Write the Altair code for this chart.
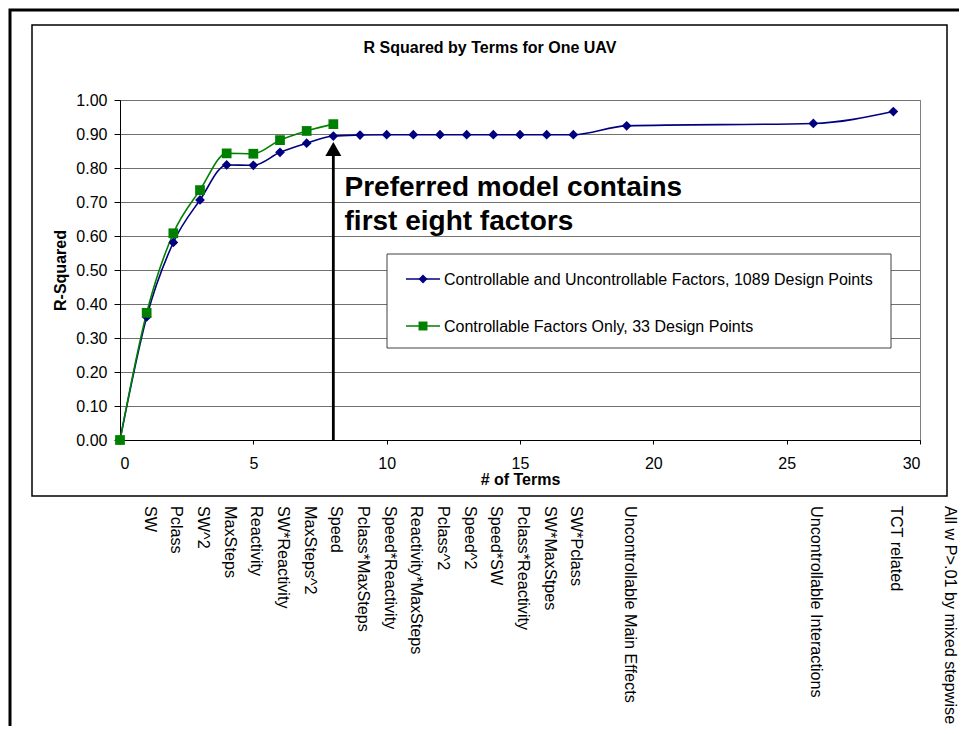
import pandas as pd
import altair as alt

FONT = "Liberation Sans"

series_names = [
    "Controllable and Uncontrollable Factors, 1089 Design Points",
    "Controllable Factors Only, 33 Design Points",
]
series_colors = ["#000080", "#008000"]
series_shapes = ["diamond", "square"]

# blue series: all factors
terms_full = [0, 1, 2, 3, 4, 5, 6, 7, 8, 9, 10, 11, 12, 13, 14, 15, 16, 17, 19, 26, 29]
r2_full = [0.0, 0.362, 0.581, 0.706, 0.809, 0.808, 0.846, 0.873, 0.894, 0.897, 0.898,
           0.898, 0.898, 0.898, 0.898, 0.898, 0.898, 0.898, 0.924, 0.931, 0.966]

# green series: controllable only
terms_ctrl = [0, 1, 2, 3, 4, 5, 6, 7, 8]
r2_ctrl = [0.0, 0.374, 0.608, 0.735, 0.843, 0.842, 0.882, 0.909, 0.929]

# names of the terms written under the chart
term_label_pos = [1, 2, 3, 4, 5, 6, 7, 8, 9, 10, 11, 12, 13, 14, 15, 16, 17, 19, 26, 29, 31]
term_labels = ["SW", "Pclass", "SW^2", "MaxSteps", "Reactivity", "SW*Reactivity",
               "MaxSteps^2", "Speed", "Pclass*MaxSteps", "Speed*Reactivity",
               "Reactivity*MaxSteps", "Pclass^2", "Speed^2", "Speed*SW",
               "Pclass*Reactivity", "SW*MaxStpes", "SW*Pclass",
               "Uncontrollable Main Effects", "Uncontrollable Interactions",
               "TCT related", "All w P>.01 by mixed stepwise"]

x_ticks = [0, 5, 10, 15, 20, 25, 30]
y_ticks = [0.0, 0.1, 0.2, 0.3, 0.4, 0.5, 0.6, 0.7, 0.8, 0.9, 1.0]

chart_title = "R Squared by Terms for One UAV"
note_lines = ["Preferred model contains", "first eight factors"]
note_x = [8.42, 8.42]
note_y = [0.741, 0.641]
arrow_x = 8
arrow_base = 0.0
arrow_top = 0.84
arrow_head = 0.856

df = pd.concat([
    pd.DataFrame({"terms": terms_full, "r2": r2_full, "series": series_names[0]}),
    pd.DataFrame({"terms": terms_ctrl, "r2": r2_ctrl, "series": series_names[1]}),
])
one = pd.DataFrame({"a": [0]})

color = alt.Color("series:N", scale=alt.Scale(domain=series_names, range=series_colors), legend=None)
x_enc = alt.X("terms:Q", scale=alt.Scale(domain=[0, 30], nice=False),
              axis=alt.Axis(values=x_ticks, format="d", grid=False, tickSize=4,
                            labelPadding=11, title="# of Terms", titlePadding=0))
y_enc = alt.Y("r2:Q", scale=alt.Scale(domain=[0, 1], nice=False),
              axis=alt.Axis(values=y_ticks, tickCount=11, format=".2f", tickSize=6,
                            labelPadding=7, labelOverlap=False,
                            title="R-Squared", titlePadding=7))

# frames
outer = alt.Chart(one).mark_rect(filled=False, stroke="black", strokeWidth=3).encode(
    x=alt.value(-110), x2=alt.value(900), y=alt.value(-90), y2=alt.value(720))
inner = alt.Chart(one).mark_rect(filled=False, stroke="black", strokeWidth=1.5).encode(
    x=alt.value(-88), x2=alt.value(827), y=alt.value(-75), y2=alt.value(396))
title = alt.Chart(pd.DataFrame({"t": [chart_title]})).mark_text(
    font=FONT, fontSize=16, fontWeight="bold", color="black", baseline="middle").encode(
    x=alt.value(370), y=alt.value(-52), text="t:N")

lines = alt.Chart(df).mark_line(interpolate="monotone", strokeWidth=1.6).encode(
    x=x_enc, y=y_enc, color=color)
points = alt.Chart(df).mark_point(filled=True, size=95, opacity=1).encode(
    x="terms:Q", y="r2:Q", color=color,
    shape=alt.Shape("series:N", scale=alt.Scale(domain=series_names, range=series_shapes), legend=None))

arrow_df = pd.DataFrame({"x": [arrow_x], "y0": [arrow_base], "y1": [arrow_top], "yh": [arrow_head]})
arrow = alt.Chart(arrow_df).mark_rule(color="black", strokeWidth=2.8).encode(
    x="x:Q", y="y0:Q", y2="y1:Q")
head = alt.Chart(arrow_df).mark_point(shape="triangle-up", filled=True, size=256,
                                      color="black", opacity=1).encode(x="x:Q", y="yh:Q")

note_df = pd.DataFrame({"x": note_x, "y": note_y, "t": note_lines})
note = alt.Chart(note_df).mark_text(align="left", baseline="middle", font=FONT,
                                    fontSize=28, fontWeight="bold", color="black").encode(
    x="x:Q", y="y:Q", text="t:N")

# legend drawn by hand
legend_box = alt.Chart(one).mark_rect(fill="white", stroke="#404040", strokeWidth=1).encode(
    x=alt.value(267), x2=alt.value(771), y=alt.value(154), y2=alt.value(248))
legend_layers = [legend_box]
for i, name in enumerate(series_names):
    row = pd.DataFrame({"series": [name]})
    ly = 179 + i * 47
    legend_layers.append(alt.Chart(row).mark_rule(color=series_colors[i], strokeWidth=1.6).encode(
        x=alt.value(286), x2=alt.value(320), y=alt.value(ly)))
    legend_layers.append(alt.Chart(row).mark_point(shape=series_shapes[i], filled=True, size=80,
                                                   color=series_colors[i], opacity=1).encode(
        x=alt.value(303), y=alt.value(ly)))
    legend_layers.append(alt.Chart(row).mark_text(align="left", baseline="middle", font=FONT,
                                                  fontSize=16, color="black").encode(
        x=alt.value(324), y=alt.value(ly + 1), text="series:N"))

labels_df = pd.DataFrame({"terms": term_label_pos, "label": term_labels})
term_text = alt.Chart(labels_df).mark_text(angle=90, align="left", baseline="middle", font=FONT,
                                           fontSize=16.2, color="black", dy=-3).encode(
    x="terms:Q", y=alt.value(406), text="label:N")

chart = alt.layer(outer, inner, title, lines, points, arrow, head, note, *legend_layers,
                  term_text).properties(
    width=800, height=340,
    autosize="none",
    padding={"left": 112, "top": 92, "right": 39, "bottom": 286},
    background="white",
).configure_view(stroke="#808080", strokeWidth=1).configure_axis(
    labelFont=FONT, titleFont=FONT, labelFontSize=16, titleFontSize=16,
    labelColor="black", titleColor="black", titleFontWeight="bold",
    domainColor="black", tickColor="black", gridColor="#707070", gridWidth=1,
)

chart.save("out.html", embed_options={"renderer": "svg", "actions": False})
